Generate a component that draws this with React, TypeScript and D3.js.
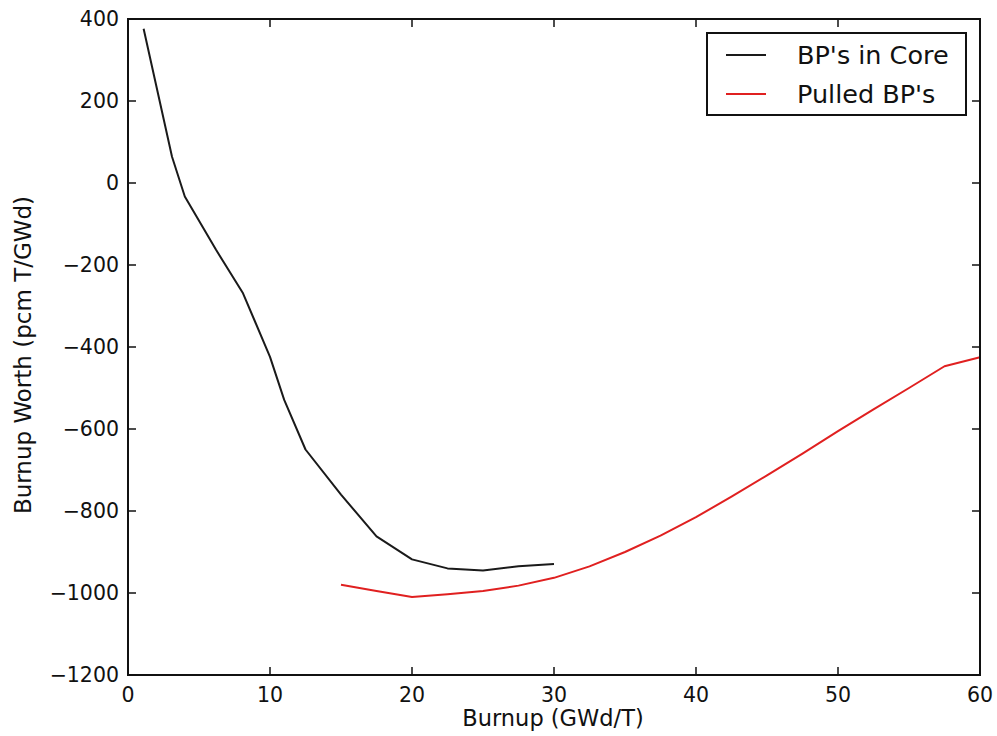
import { useEffect, useRef } from 'react';
import * as d3 from 'd3';

// BP's in Core (black)
const coreBurnup = [1.1, 3.1, 4.0, 6.2, 8.1, 10, 11, 12.5, 15, 17.5, 20, 22.5, 25, 27.5, 30];
const coreWorth = [376, 64, -33, -163, -269, -424, -529, -650, -760, -862, -918, -940, -945, -935, -929];

// Pulled BP's (red)
const pulledBurnup = [15, 17.5, 20, 22.5, 25, 27.5, 30, 32.5, 35, 37.5, 40, 42.5, 45, 47.5, 50, 52.5, 55, 57.5, 60];
const pulledWorth = [-980, -995, -1010, -1003, -995, -982, -963, -935, -900, -860, -815, -765, -713, -660, -605, -552, -500, -447, -425];

const xTicks = [0, 10, 20, 30, 40, 50, 60];
const yTicks = [400, 200, 0, -200, -400, -600, -800, -1000, -1200];

const seriesNames = ["BP's in Core", "Pulled BP's"];
const seriesColors = ['#1a1a1a', '#e02020'];

export default function App() {
    const svgRef = useRef<SVGSVGElement>(null);
    const W = 997;
    const H = 736;

    useEffect(() => {
        const svg = d3.select(svgRef.current);
        svg.selectAll('*').remove();

        const margin = { left: 128, top: 19, right: 17, bottom: 61 };
        const width = W - margin.left - margin.right;
        const height = H - margin.top - margin.bottom;
        const font = 'DejaVu Sans, sans-serif';
        const fmt = (v: number) => (v < 0 ? '\u2212' + Math.abs(v) : String(v));

        const x = d3.scaleLinear().domain([0, 60]).range([0, width]);
        const y = d3.scaleLinear().domain([-1200, 400]).range([height, 0]);

        const g = svg.append('g').attr('transform', `translate(${margin.left},${margin.top})`);

        // data lines
        const line = d3.line<[number, number]>()
            .x(d => x(d[0]))
            .y(d => y(d[1]));

        const series: [number, number][][] = [
            coreBurnup.map((b, i) => [b, coreWorth[i]]),
            pulledBurnup.map((b, i) => [b, pulledWorth[i]])
        ];

        series.forEach((pts, i) => {
            g.append('path')
                .datum(pts)
                .attr('fill', 'none')
                .attr('stroke', seriesColors[i])
                .attr('stroke-width', 2)
                .attr('stroke-linejoin', 'round')
                .attr('d', line);
        });

        // frame
        g.append('rect')
            .attr('width', width)
            .attr('height', height)
            .attr('fill', 'none')
            .attr('stroke', '#111')
            .attr('stroke-width', 2);

        const tickLen = 8;
        // x ticks, inward on bottom and top
        xTicks.forEach(t => {
            g.append('line')
                .attr('x1', x(t)).attr('x2', x(t))
                .attr('y1', height).attr('y2', height - tickLen)
                .attr('stroke', '#111').attr('stroke-width', 1.5);
            g.append('line')
                .attr('x1', x(t)).attr('x2', x(t))
                .attr('y1', 0).attr('y2', tickLen)
                .attr('stroke', '#111').attr('stroke-width', 1.5);
            g.append('text')
                .attr('x', x(t))
                .attr('y', height + 27)
                .attr('text-anchor', 'middle')
                .style('font-family', font)
                .style('font-size', '20.5px')
                .style('fill', '#111')
                .text(fmt(t));
        });

        // y ticks, inward on left and right
        yTicks.forEach(t => {
            g.append('line')
                .attr('x1', 0).attr('x2', tickLen)
                .attr('y1', y(t)).attr('y2', y(t))
                .attr('stroke', '#111').attr('stroke-width', 1.5);
            g.append('line')
                .attr('x1', width).attr('x2', width - tickLen)
                .attr('y1', y(t)).attr('y2', y(t))
                .attr('stroke', '#111').attr('stroke-width', 1.5);
            g.append('text')
                .attr('x', -9)
                .attr('y', y(t))
                .attr('dy', '0.36em')
                .attr('text-anchor', 'end')
                .style('font-family', font)
                .style('font-size', '20.5px')
                .style('fill', '#111')
                .text(fmt(t));
        });

        // axis labels
        svg.append('text')
            .attr('x', 553)
            .attr('y', 726)
            .attr('text-anchor', 'middle')
            .style('font-family', font)
            .style('font-size', '22.5px')
            .style('fill', '#111')
            .text('Burnup (GWd/T)');

        svg.append('text')
            .attr('transform', `translate(31,355) rotate(-90)`)
            .attr('text-anchor', 'middle')
            .style('font-family', font)
            .style('font-size', '23px')
            .style('fill', '#111')
            .text('Burnup Worth (pcm T/GWd)');

        // legend
        const legend = svg.append('g').attr('transform', 'translate(707,33)');
        legend.append('rect')
            .attr('width', 259)
            .attr('height', 82)
            .attr('fill', '#fff')
            .attr('stroke', '#111')
            .attr('stroke-width', 2);

        seriesNames.forEach((name, i) => {
            const row = legend.append('g').attr('transform', `translate(0,${22 + i * 39})`);
            row.append('line')
                .attr('x1', 19).attr('x2', 59)
                .attr('y1', 0).attr('y2', 0)
                .attr('stroke', seriesColors[i])
                .attr('stroke-width', 2);
            row.append('text')
                .attr('x', 90)
                .attr('y', 0)
                .attr('dy', '0.36em')
                .style('font-family', font)
                .style('font-size', '25.5px')
                .style('fill', '#111')
                .text(name);
        });
    }, []);

    return (
        <svg
            ref={svgRef}
            width={W}
            height={H}
            style={{ position: 'absolute', left: 0, top: 0, background: '#fff' }}
        />
    );
}
